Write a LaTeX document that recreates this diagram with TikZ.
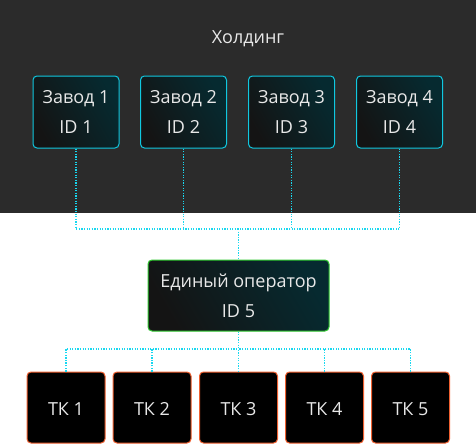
\documentclass[tikz,border=0pt]{standalone}
\usepackage{fontspec}
\setmainfont{Open Sans}
\definecolor{bgdark}{HTML}{2B2B2B}
\definecolor{boxA}{HTML}{141414}
\definecolor{boxB}{HTML}{062A30}
\definecolor{cyanline}{HTML}{18D8F0}
\definecolor{cyanborder}{HTML}{10C8E0}
\definecolor{greenborder}{HTML}{30C830}
\definecolor{orangeborder}{HTML}{F06030}
\definecolor{txt}{HTML}{E8E8E8}
\begin{document}
\begin{tikzpicture}[x=1pt,y=-1pt,
  lbl/.style={text=txt,font=\fontsize{18}{30}\selectfont,align=center},
  factory/.style={lbl,draw=cyanborder,line width=1pt,rounded corners=4pt,
    left color=boxA,right color=boxB,shading angle=120,
    minimum width=86pt,minimum height=72pt,inner sep=0pt},
  operator/.style={lbl,draw=greenborder,line width=1pt,rounded corners=4pt,
    left color=boxA,right color=boxB,shading angle=120,
    minimum width=181pt,minimum height=71pt,inner sep=0pt},
  tk/.style={text=txt,font=\fontsize{18}{30}\selectfont,draw=orangeborder,line width=1pt,rounded corners=4pt,fill=black,
    text height=15pt,text depth=0pt,
    minimum width=78pt,minimum height=71pt,inner sep=0pt},
  conn/.style={draw=cyanline,line width=1.3pt,dash pattern=on 1.3pt off 1.3pt}]
\useasboundingbox (0,0) rectangle (476,444);
\fill[white] (0,0) rectangle (476,444);
\fill[bgdark] (0,0) rectangle (476,213);
\node[lbl,anchor=base] (hold) at (248,44) {Холдинг};
\coordinate (hubA) at (238.5,229);
\coordinate (hubB) at (238.5,349);
\node[factory] (f1) at (76,112) {Завод 1\\ID 1};
\node[factory] (f2) at (183.5,112) {Завод 2\\ID 2};
\node[factory] (f3) at (291.5,112) {Завод 3\\ID 3};
\node[factory] (f4) at (399.5,112) {Завод 4\\ID 4};
\node[operator] (op) at (238.5,295.5) {Единый оператор\\ID 5};
\node[tk] (t1) at (66,407.5) {ТК 1};
\node[tk] (t2) at (152,407.5) {ТК 2};
\node[tk] (t3) at (238.5,407.5) {ТК 3};
\node[tk] (t4) at (324.5,407.5) {ТК 4};
\node[tk] (t5) at (410.5,407.5) {ТК 5};
\draw[conn] (f1.south) |- (hubA);
\draw[conn] (f4.south) |- (hubA);
\draw[conn] (f2.south) -- (f2.south |- hubA);
\draw[conn] (f3.south) -- (f3.south |- hubA);
\draw[conn] (hubA) -- (op.north);
\draw[conn] (op.south) -- (t3.north);
\draw[conn] (t1.north) |- (hubB);
\draw[conn] (t5.north) |- (hubB);
\draw[conn] (t2.north) -- (t2.north |- hubB);
\draw[conn] (t4.north) -- (t4.north |- hubB);
\end{tikzpicture}
\end{document}
